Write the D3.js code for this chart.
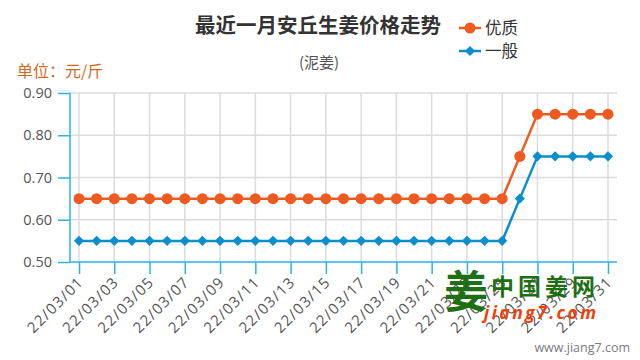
<!DOCTYPE html>
<html><head><meta charset="utf-8">
<script src="https://cdn.jsdelivr.net/npm/d3@7"></script>
<style>body{margin:0;background:#fff;font-family:"Open Sans","Noto Sans CJK SC",sans-serif;}</style>
</head><body>
<svg id="c" width="640" height="360"></svg>
<script>
const dates = ["22/03/01","22/03/02","22/03/03","22/03/04","22/03/05","22/03/06","22/03/07","22/03/08","22/03/09","22/03/10","22/03/11","22/03/12","22/03/13","22/03/14","22/03/15","22/03/16","22/03/17","22/03/18","22/03/19","22/03/20","22/03/21","22/03/22","22/03/23","22/03/24","22/03/25","22/03/26","22/03/27","22/03/28","22/03/29","22/03/30","22/03/31"];
const premium = [0.65,0.65,0.65,0.65,0.65,0.65,0.65,0.65,0.65,0.65,0.65,0.65,0.65,0.65,0.65,0.65,0.65,0.65,0.65,0.65,0.65,0.65,0.65,0.65,0.65,0.75,0.85,0.85,0.85,0.85,0.85];
const normal = [0.55,0.55,0.55,0.55,0.55,0.55,0.55,0.55,0.55,0.55,0.55,0.55,0.55,0.55,0.55,0.55,0.55,0.55,0.55,0.55,0.55,0.55,0.55,0.55,0.55,0.65,0.75,0.75,0.75,0.75,0.75];
const yTicks = [0.5,0.6,0.7,0.8,0.9];
const seriesNames = ["优质","一般"];

const svg = d3.select("#c");
const font = '"Open Sans","Noto Sans CJK SC",sans-serif';
const cjk = '"Noto Sans CJK SC",sans-serif';
const orange = "#ee5a1f", blue = "#0b8ecd", axisC = "#2bb2e6", gridC = "#dcdcdc";

const x = d3.scalePoint().domain(dates).range([79, 608]);
const y = d3.scaleLinear().domain([0.5, 0.9]).range([262, 93]);
const left = 70, right = 617;

// grid
svg.append("g").selectAll("line").data(yTicks.slice(1)).join("line")
  .attr("x1", left).attr("x2", right).attr("y1", d => y(d)).attr("y2", d => y(d))
  .attr("stroke", gridC).attr("stroke-width", 1.5);
const labelDates = dates.filter((d, i) => i % 2 === 0);
svg.append("g").selectAll("line").data(labelDates).join("line")
  .attr("x1", d => x(d)).attr("x2", d => x(d)).attr("y1", y(0.9)).attr("y2", y(0.5))
  .attr("stroke", gridC).attr("stroke-width", 1.5);

// y axis
const ya = svg.append("g").attr("transform", `translate(${left},0)`)
  .call(d3.axisLeft(y).tickValues(yTicks).tickFormat(d3.format(".2f")).tickSize(12).tickPadding(6));
ya.select(".domain").attr("stroke", axisC).attr("stroke-width", 1.5).attr("d", `M0,${y(0.9)}V${y(0.5)}`);
ya.selectAll(".tick line").attr("stroke", axisC).attr("stroke-width", 1.5);
ya.selectAll(".tick text").attr("fill", "#555").style("font-family", font).style("font-size", "14.5px");

// x axis
const xa = svg.append("g").attr("transform", `translate(0,${y(0.5)})`)
  .call(d3.axisBottom(x).tickValues(labelDates).tickSize(12).tickSizeOuter(0));
xa.select(".domain").attr("stroke", axisC).attr("stroke-width", 1.5).attr("d", `M${left},0H${right}`);
xa.selectAll(".tick line").attr("stroke", axisC).attr("stroke-width", 1.5);
xa.selectAll(".tick text").attr("fill", "#555").style("font-family", font).style("font-size", "15px")
  .style("letter-spacing", "1.2px")
  .attr("text-anchor", "end").attr("dy", null).attr("y", 0)
  .attr("transform", "translate(5,21) rotate(-45)");

// watermark
const wm = svg.append("g");
wm.append("text").attr("x", 466).attr("y", 308).attr("text-anchor", "middle")
  .style("font-family", cjk).style("font-weight", "bold").style("font-size", "44px").attr("fill", "#1e6f14").text("姜");
wm.append("text").attr("x", 491).attr("y", 295)
  .style("font-family", cjk).style("font-weight", "bold").style("font-size", "23px").attr("fill", "#1e6f14")
  .attr("textLength", 104).text("中国姜网");
wm.append("text").attr("x", 484).attr("y", 319)
  .style("font-family", font).style("font-weight", "bold").style("font-style", "italic").style("font-size", "17.5px")
  .attr("fill", "#f2400a").attr("textLength", 112).text("jiang7.com");
svg.append("text").attr("x", 630).attr("y", 352).attr("text-anchor", "end")
  .style("font-family", font).style("font-size", "12.5px").attr("fill", "#7a7a80").text("www.jiang7.com");

// lines
const line = d3.line().x((d, i) => x(dates[i])).y(d => y(d));
svg.append("path").datum(normal).attr("d", line).attr("fill", "none").attr("stroke", blue).attr("stroke-width", 2.5);
svg.append("path").datum(premium).attr("d", line).attr("fill", "none").attr("stroke", orange).attr("stroke-width", 2.5);
svg.append("g").selectAll("path").data(normal).join("path")
  .attr("transform", (d, i) => `translate(${x(dates[i])},${y(d)}) rotate(45)`)
  .attr("d", d3.symbol().type(d3.symbolSquare).size(52)).attr("fill", blue);
svg.append("g").selectAll("circle").data(premium).join("circle")
  .attr("cx", (d, i) => x(dates[i])).attr("cy", d => y(d)).attr("r", 5.5).attr("fill", orange);

// titles
svg.append("text").attr("x", 318).attr("y", 33).attr("text-anchor", "middle")
  .style("font-family", cjk).style("font-weight", "bold").style("font-size", "20.5px").attr("fill", "#333").text("最近一月安丘生姜价格走势");
svg.append("text").attr("x", 319).attr("y", 68).attr("text-anchor", "middle")
  .style("font-family", cjk).style("font-size", "15px").attr("fill", "#555").text("(泥姜)");
svg.append("text").attr("x", 17).attr("y", 77)
  .style("font-family", cjk).style("font-size", "16px").attr("fill", "#d2691e").text("单位：元/斤");

// legend
const leg = svg.append("g");
const lg = [{n: seriesNames[0], c: orange, y: 28, t: "c"}, {n: seriesNames[1], c: blue, y: 51, t: "d"}];
lg.forEach(l => {
  leg.append("line").attr("x1", 459).attr("x2", 481).attr("y1", l.y).attr("y2", l.y).attr("stroke", l.c).attr("stroke-width", 2.5);
  if (l.t === "c") leg.append("circle").attr("cx", 470).attr("cy", l.y).attr("r", 5.5).attr("fill", l.c);
  else leg.append("path").attr("transform", `translate(470,${l.y}) rotate(45)`).attr("d", d3.symbol().type(d3.symbolSquare).size(52)).attr("fill", l.c);
  leg.append("text").attr("x", 485).attr("y", l.y + 6).style("font-family", cjk).style("font-size", "16.5px").attr("fill", "#333").text(l.n);
});
</script>
</body></html>
